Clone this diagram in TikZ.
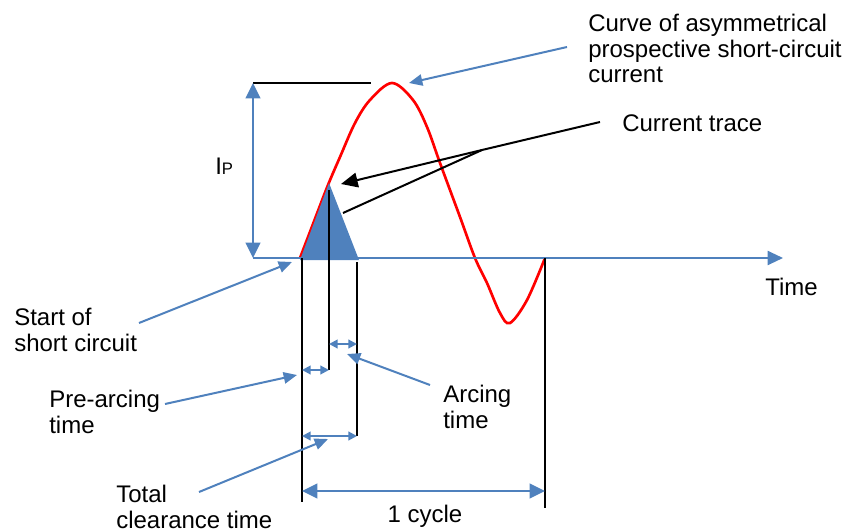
\documentclass[tikz,border=0pt]{standalone}
\usepackage{fontspec}
\setmainfont{Liberation Sans}
\usetikzlibrary{arrows.meta}
\definecolor{accent}{HTML}{4F81BD}
\definecolor{curvered}{HTML}{FF0000}

\begin{document}
\begin{tikzpicture}[x=0.75pt,y=-0.75pt,
  lbl/.style={inner sep=0pt,anchor=base west,align=left,font=\fontsize{18}{19.2}\selectfont},
  bluel/.style={draw=accent,line width=1.5pt},
  pointer/.style={bluel,-{Triangle[length=10pt,width=8.5pt]}},
  span/.style={bluel,{Triangle[length=6.5pt,width=6.5pt]}-{Triangle[length=6.5pt,width=6.5pt]}},
  bigspan/.style={bluel,{Triangle[length=11.5pt,width=11pt]}-{Triangle[length=11.5pt,width=11pt]}},
  blk/.style={draw=black,line width=1.5pt}]
\useasboundingbox (0,0) rectangle (845,531);

% points on the time axis
\coordinate (o) at (253,258);
\coordinate (tend) at (783,258);
\coordinate (ts) at (302,258);
\coordinate (cyc) at (545,258);
\coordinate (peak) at (253,83);
\coordinate (peakend) at (371,83);

% prospective current
\draw[curvered,line width=2pt] plot[smooth,tension=0.55] coordinates {
  (300,258) (313,224) (328,185) (340,157) (355,123) (370,100) (392,83)
  (413,100) (427,127) (440,163) (460,217) (475,258) (487,283) (500,313)
  (510,323) (527,300) (545,258)};

% current trace
\coordinate (trl) at (300,260);
\coordinate (tra) at (329,183);
\coordinate (trr) at (359,260);
\fill[accent] (trl) -- (tra) -- (trr) -- cycle;

% axis and peak value
\draw[bluel,-{Triangle[length=11.5pt,width=10.5pt]}] (o) -- (tend);
\draw[blk,line width=2.2pt] (peak) -- (peakend);
\draw[bigspan] (peak) -- (o);
\node[lbl] (ip) at (215,175) {I{\fontsize{12.5}{13}\selectfont P}};
\node[lbl] (time) at (765,295) {Time};

% time marks
\coordinate (melt) at (329,190);
\coordinate (clr) at (357,262);
\draw[blk] (ts) -- ++(0,244) coordinate (tsb);
\draw[blk] (melt) -- (329,370) coordinate (meltb);
\draw[blk] (clr) -- (357,436) coordinate (clrb);
\draw[blk] (cyc) -- ++(0,250) coordinate (cycb);

\draw[span] (302,370) -- (meltb);
\draw[span] (329,344) -- (357,344);
\draw[span] (302,436) -- (clrb);
\draw[bigspan] (302,491) -- (545,491);

% labels (base = last line)
\node[lbl] (curve) at (588,83) {Curve of asymmetrical\\prospective short-circuit\\current};
\node[lbl] (trace) at (622,132) {Current trace};
\node[lbl] (start) at (14,351) {Start of\\short circuit};
\node[lbl] (prearc) at (49,433) {Pre-arcing\\time};
\node[lbl] (arc) at (443,428) {Arcing\\time};
\node[lbl] (total) at (116,528) {Total\\clearance time};
\node[lbl,anchor=base] (cycle) at (425,522) {1 cycle};

% pointers
\coordinate (curve-p) at (567,47);
\coordinate (curve-t) at (409,83);
\draw[pointer] (curve-p) -- (curve-t);
\coordinate (start-p) at (139,323);
\coordinate (start-t) at (292,262);
\draw[pointer] (start-p) -- (start-t);
\coordinate (prearc-p) at (165,404);
\coordinate (prearc-t) at (297,375);
\draw[pointer] (prearc-p) -- (prearc-t);
\coordinate (arc-p) at (430,385);
\coordinate (arc-t) at (347,354);
\draw[pointer] (arc-p) -- (arc-t);
\coordinate (total-p) at (199,492);
\coordinate (total-t) at (328,439);
\draw[pointer] (total-p) -- (total-t);

\coordinate (trace-p) at (600,122);
\coordinate (trace-j) at (482,150);
\coordinate (trace-t) at (341,184);
\coordinate (trace-e) at (343,213);
\draw[blk] (trace-p) -- (trace-j);
\draw[blk,-{Triangle[length=12.5pt,width=11pt]}] (trace-j) -- (trace-t);
\draw[blk] (trace-j) -- (trace-e);
\end{tikzpicture}
\end{document}
